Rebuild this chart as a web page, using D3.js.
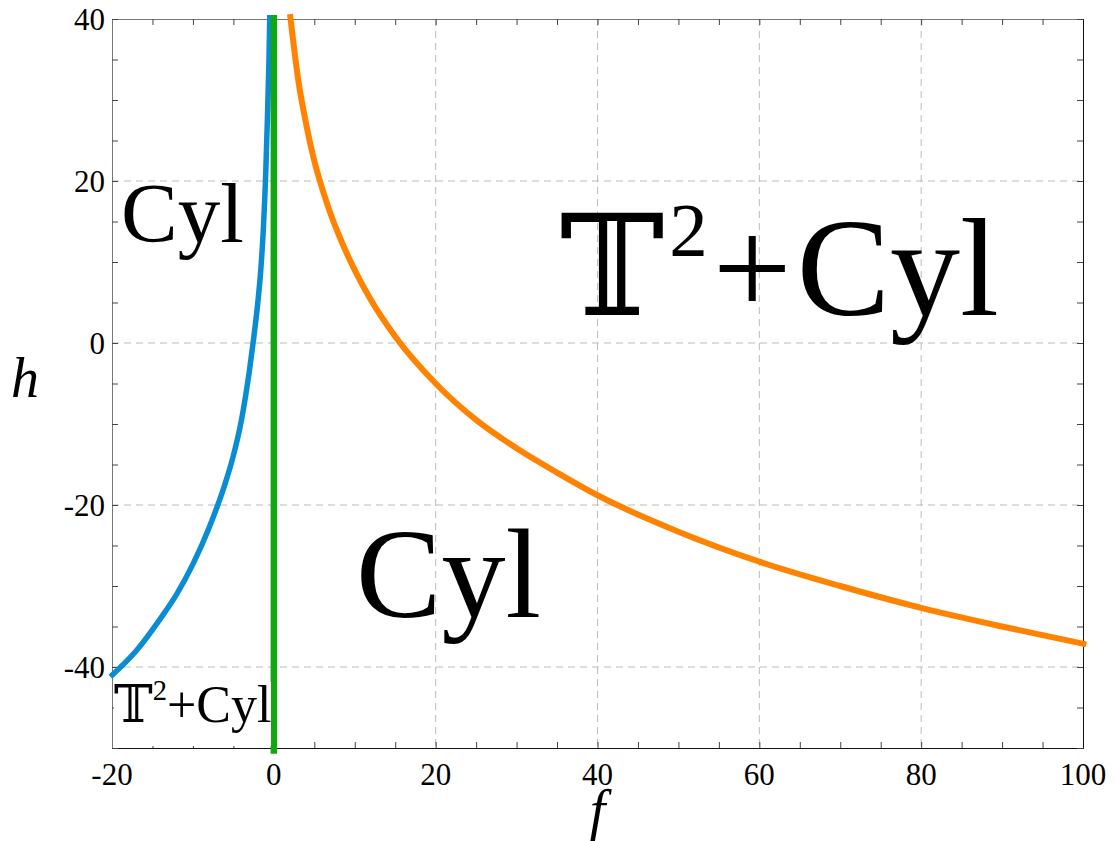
<!DOCTYPE html>
<html>
<head>
<meta charset="utf-8">
<script src="https://cdn.jsdelivr.net/npm/d3@7"></script>
<style>
  body { margin: 0; background: #fff; }
  text { font-family: "Liberation Serif", "Times New Roman", serif; fill: #000; }
  .dstruck { font-family: "DejaVu Serif", "DejaVu Sans", "Noto Sans", serif; }
</style>
</head>
<body>
<script>
var svgWidth = 1118;
var svgHeight = 841;
var margin = { top: 19, right: 35, bottom: 93, left: 112 };
var chartWidth = svgWidth - margin.left - margin.right;
var chartHeight = svgHeight - margin.top - margin.bottom;

// tick values
var xTicks = [-20, 0, 20, 40, 60, 80, 100];
var yTicks = [-40, -20, 0, 20, 40];

// blue branch (f < 0)
var fBlue = [-20.2, -17, -14, -12, -10, -8, -6, -5, -4, -3, -2.5, -2, -1.6, -1.3, -1, -0.8, -0.6, -0.5];
var hBlue = [-41.2, -38, -34, -31, -27.3, -22.8, -17.3, -13.9, -9.5, -3.3, 0.5, 4.8, 9.2, 14, 21, 27.5, 35, 40.5];

// orange branch (f > 0)
var fOrange = [2, 3, 4, 5, 6, 7, 8, 10, 12, 15, 20, 25, 30, 35, 40, 50, 60, 70, 80, 90, 100.4];
var hOrange = [40.6, 32.6, 27, 22.5, 19, 16, 13.4, 9, 5.3, 0.8, -5, -9.5, -13, -16, -18.8, -23.3, -27, -30, -32.7, -35, -37.2];

// green vertical line at f = 0
var fGreen = [0, 0];
var hGreen = [-50.7, 40.5];

var svg = d3.select("body")
  .append("svg")
  .attr("width", svgWidth)
  .attr("height", svgHeight);

var chartGroup = svg.append("g")
  .attr("transform", `translate(${margin.left}, ${margin.top})`);

var xScale = d3.scaleLinear()
  .domain([-20, 100])
  .range([0, chartWidth]);

var yScale = d3.scaleLinear()
  .domain([-50, 40])
  .range([chartHeight, 0]);

// grid lines
chartGroup.selectAll(".vgrid")
  .data(xTicks.filter(d => d > -20 && d < 100))
  .enter()
  .append("line")
  .attr("x1", d => xScale(d))
  .attr("x2", d => xScale(d))
  .attr("y1", 0)
  .attr("y2", chartHeight)
  .attr("stroke", "#bbb")
  .attr("stroke-width", 1)
  .attr("stroke-dasharray", "7,5");

chartGroup.selectAll(".hgrid")
  .data(yTicks.filter(d => d > -50 && d < 40))
  .enter()
  .append("line")
  .attr("x1", 0)
  .attr("x2", chartWidth)
  .attr("y1", d => yScale(d))
  .attr("y2", d => yScale(d))
  .attr("stroke", "#bbb")
  .attr("stroke-width", 1)
  .attr("stroke-dasharray", "7,5");

// axes, ticks pointing inward, minor every 5
var xMinor = d3.range(-20, 100.1, 5);
var yMinor = d3.range(-50, 40.1, 5);

chartGroup.append("g")
  .attr("transform", `translate(0, ${chartHeight})`)
  .call(d3.axisBottom(xScale).tickValues(xMinor).tickSize(-6).tickFormat(""))
  .call(g => g.select(".domain").attr("stroke", "#111"));

chartGroup.append("g")
  .call(d3.axisTop(xScale).tickValues(xMinor).tickSize(-6).tickFormat(""))
  .call(g => g.select(".domain").attr("stroke", "#777"));

chartGroup.append("g")
  .call(d3.axisLeft(yScale).tickValues(yMinor).tickSize(-6).tickFormat(""))
  .call(g => g.select(".domain").attr("stroke", "#777"));

chartGroup.append("g")
  .attr("transform", `translate(${chartWidth}, 0)`)
  .call(d3.axisRight(yScale).tickValues(yMinor).tickSize(-6).tickFormat(""))
  .call(g => g.select(".domain").attr("stroke", "#111"));

chartGroup.selectAll(".tick line").attr("stroke", "#444");

// tick labels
chartGroup.selectAll(".xlab")
  .data(xTicks)
  .enter()
  .append("text")
  .attr("x", d => xScale(d))
  .attr("y", chartHeight + 37)
  .style("text-anchor", "middle")
  .style("font-size", "31px")
  .text(d => String(d));

chartGroup.selectAll(".ylab")
  .data(yTicks)
  .enter()
  .append("text")
  .attr("x", -7)
  .attr("y", d => yScale(d) + 11)
  .style("text-anchor", "end")
  .style("font-size", "31px")
  .text(d => String(d));

// axis titles
svg.append("text")
  .attr("x", margin.left + chartWidth / 2)
  .attr("y", 829)
  .style("text-anchor", "middle")
  .style("font-size", "56px")
  .style("font-style", "italic")
  .text("f");

svg.append("text")
  .attr("x", 25)
  .attr("y", 397)
  .style("text-anchor", "middle")
  .style("font-size", "56px")
  .style("font-style", "italic")
  .text("h");

// curves
var line = d3.line()
  .x(d => xScale(d[0]))
  .y(d => yScale(d[1]))
  .curve(d3.curveMonotoneX);

chartGroup.append("path")
  .datum(d3.zip(fBlue, hBlue))
  .attr("fill", "none")
  .attr("stroke", "#0a8cd2")
  .attr("stroke-width", 5.5)
  .attr("d", line);

chartGroup.append("path")
  .datum(d3.zip(fOrange, hOrange))
  .attr("fill", "none")
  .attr("stroke", "#ff8300")
  .attr("stroke-width", 6)
  .attr("d", line);

chartGroup.append("path")
  .datum(d3.zip(fGreen, hGreen))
  .attr("fill", "none")
  .attr("stroke", "#10a810")
  .attr("stroke-width", 6.5)
  .attr("d", d3.line().x(d => xScale(d[0])).y(d => yScale(d[1])));

// region labels
svg.append("text")
  .attr("x", 121)
  .attr("y", 242)
  .style("font-size", "85px")
  .text("Cyl");

svg.append("text")
  .attr("x", 356)
  .attr("y", 617)
  .style("font-size", "128px")
  .text("Cyl");

function torusLabel(x, y, size, gap) {
  var t = svg.append("text")
    .attr("x", x)
    .attr("y", y)
    .style("font-size", size + "px");
  t.append("tspan").attr("class", "dstruck").text("\uD835\uDD4B");
  t.append("tspan")
    .attr("dx", gap)
    .attr("dy", -size * 0.42)
    .style("font-size", (size * 0.55) + "px")
    .text("2");
  t.append("tspan")
    .attr("dx", gap)
    .attr("dy", size * 0.42)
    .text("+");
  t.append("tspan")
    .attr("dx", gap)
    .text("Cyl");
  return t;
}

svg.append("rect")
  .attr("x", 114)
  .attr("y", 682)
  .attr("width", 157)
  .attr("height", 64)
  .attr("fill", "#fff");

torusLabel(114, 722, 52, 0);
torusLabel(560, 315, 140, 5);
</script>
</body>
</html>
